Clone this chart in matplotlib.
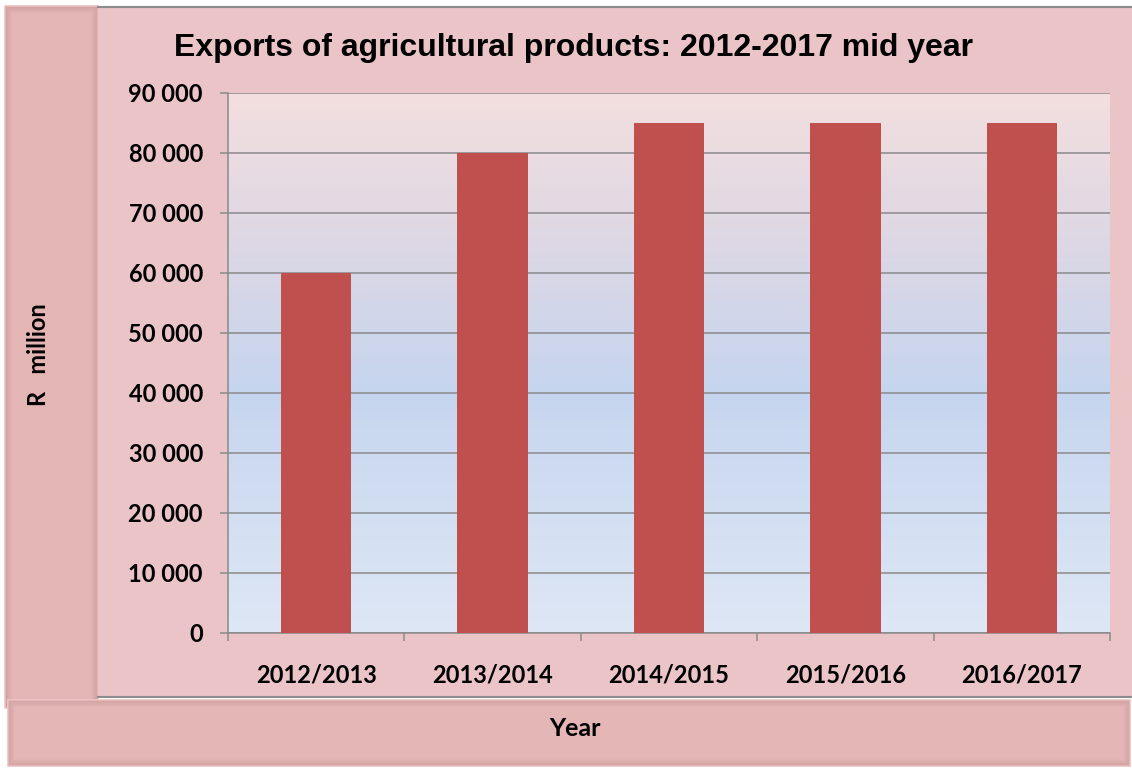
import numpy as np
import matplotlib
matplotlib.use('Agg')
import matplotlib.pyplot as plt
from matplotlib.patches import Rectangle
from matplotlib.colors import LinearSegmentedColormap
from matplotlib.ticker import FuncFormatter, FixedLocator

years = ['2012/2013', '2013/2014', '2014/2015', '2015/2016', '2016/2017']
exports = [60000, 80000, 85000, 85000, 85000]
y_ticks = [0, 10000, 20000, 30000, 40000, 50000, 60000, 70000, 80000, 90000]

W, H = 1132, 769
fig = plt.figure(figsize=(W / 100, H / 100), dpi=100)
fig.patch.set_facecolor('white')

# decoration layer in pixel coords
deco = fig.add_axes([0, 0, 1, 1], zorder=0)
deco.set_xlim(0, W)
deco.set_ylim(H, 0)
deco.axis('off')

# chart area background (flat instead of texture)
deco.add_patch(Rectangle((98, 7), W - 98, 691, facecolor='#eac4c7', edgecolor='none'))
deco.plot([98, W], [7, 7], color='#8c8c8c', lw=1.5)
deco.plot([98, W], [697, 697], color='#8c8c8c', lw=1.5)


def shadow_box(x, y, w, h, face):
    deco.add_patch(Rectangle((x, y), w, h, facecolor=face, edgecolor='#f0c4c4', lw=1.2))
    # inner shadow
    for i in range(6):
        a = 0.09 * (6 - i) / 6
        deco.add_patch(Rectangle((x + 1 + i, y + 1 + i), w - 2 - 2 * i, h - 2 - 2 * i,
                                 facecolor='none', edgecolor=(0.45, 0.25, 0.25, a), lw=1.2))


shadow_box(5, 6, 93, 702, '#e3b5b5')
shadow_box(8, 700, 1122, 66, '#e4b6b6')

deco.text(38, 355, 'R   million', rotation=90, ha='center', va='center',
          fontsize=17, fontweight='bold', family='Lato')
deco.text(575, 729, 'Year', ha='center', va='center',
          fontsize=18, fontweight='bold', family='Lato')
deco.text(574, 48, 'Exports of agricultural products: 2012-2017 mid year', ha='center', va='center',
          fontsize=23, fontweight='bold', family='Liberation Sans')

# main plot area
x0, x1, ytop, ybot = 228, 1110, 93, 633
ax = fig.add_axes([x0 / W, (H - ybot) / H, (x1 - x0) / W, (ybot - ytop) / H], zorder=1)
ax.patch.set_alpha(0)

cmap = LinearSegmentedColormap.from_list('bg', [
    (0.0, '#dee7f5'), (0.45, '#c6d5ef'), (0.75, '#dfd8e4'), (1.0, '#f3dfdf')])
grad = np.linspace(0, 1, 256).reshape(-1, 1)
ax.imshow(grad, cmap=cmap, aspect='auto', origin='lower',
          extent=(-0.5, 4.5, 0, 90000), zorder=0)

xs = np.arange(len(years))
ax.bar(xs, exports, width=0.4, color='#c0504d', zorder=3)

ax.set_xlim(-0.5, 4.5)
ax.set_ylim(0, 90000)
ax.yaxis.set_major_locator(FixedLocator(y_ticks))
ax.yaxis.set_major_formatter(FuncFormatter(lambda v, p: f'{int(v):,}'.replace(',', ' ')))
ax.grid(axis='y', color='#8a8a8a', lw=1.1, zorder=2)
ax.set_axisbelow(False)

ax.set_xticks(xs)
ax.set_xticklabels(years)
ax.set_xticks(np.arange(-0.5, 5, 1), minor=True)
ax.tick_params(axis='x', which='major', length=0, pad=22)
ax.tick_params(axis='x', which='minor', length=6, color='#8a8a8a', width=1.1, direction='out')
ax.tick_params(axis='y', length=6, color='#8a8a8a', width=1.1, direction='out', pad=12)

for lab in ax.get_xticklabels() + ax.get_yticklabels():
    lab.set_fontweight('bold')
    lab.set_fontsize(17)
    lab.set_family('Lato')

for s in ['top', 'right']:
    ax.spines[s].set_visible(False)
for s in ['left', 'bottom']:
    ax.spines[s].set_color('#8a8a8a')
    ax.spines[s].set_linewidth(1.1)

fig.savefig('out.png', dpi=100)
